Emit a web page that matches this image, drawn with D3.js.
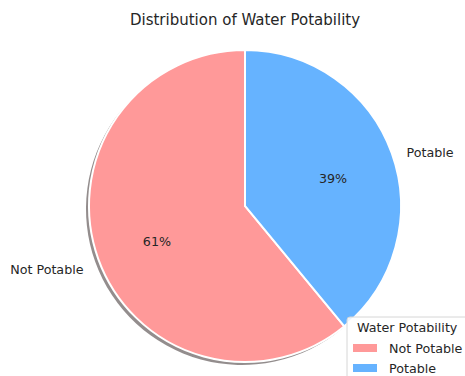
<!DOCTYPE html>
<html>
<head>
  <meta charset="utf-8">
  <title>Distribution of Water Potability</title>
  <style>
    body { margin: 0; background: #fff; }
    svg { display: block; font-family: "DejaVu Sans", sans-serif; }
    .wedge { stroke: #fff; stroke-width: 2px; }
    .lbl { fill: #262626; font-size: 12.7px; }
  </style>
</head>
<body>
  <svg id="chart"></svg>
  <script src="https://cdn.jsdelivr.net/npm/d3@7"></script>
  <script>
    // data
    const categories = ["Not Potable", "Potable"];
    const counts = [1998, 1278];
    const colors = ["#ff9999", "#66b3ff"];
    const shadowColors = ["#3a3030", "#2a3440"];

    const W = 465, H = 376;
    const cx = 245, cy = 206, r = 156;

    const svg = d3.select("#chart").attr("width", W).attr("height", H);

    // title
    svg.append("text")
      .attr("x", 245).attr("y", 25)
      .attr("text-anchor", "middle")
      .attr("fill", "#262626")
      .style("font-size", "15px")
      .text("Distribution of Water Potability");

    // start at 12 o'clock, go counterclockwise like matplotlib
    const pie = d3.pie().sort(null)
      .startAngle(0).endAngle(-2 * Math.PI);
    const arcs = pie(counts);
    const total = d3.sum(counts);

    const arc = d3.arc().innerRadius(0).outerRadius(r);

    // shadow
    const sh = svg.append("g").attr("transform", `translate(${cx - 3},${cy + 3})`);
    sh.selectAll("path")
      .data(arcs)
      .enter()
      .append("path")
      .attr("d", arc)
      .attr("fill", (d, i) => shadowColors[i])
      .attr("opacity", 0.55);

    const g = svg.append("g").attr("transform", `translate(${cx},${cy})`);
    g.selectAll(".wedge")
      .data(arcs)
      .enter()
      .append("path")
      .attr("class", "wedge")
      .attr("d", arc)
      .attr("fill", (d, i) => colors[i]);

    // labels outside at 1.1 r, percentages at 0.6 r
    function mid(d) { return (d.startAngle + d.endAngle) / 2; }
    g.selectAll(".cat")
      .data(arcs)
      .enter()
      .append("text")
      .attr("class", "lbl")
      .attr("x", d => 1.1 * r * Math.sin(mid(d)))
      .attr("y", d => -1.1 * r * Math.cos(mid(d)) + 5)
      .attr("dy", "0.35em")
      .attr("text-anchor", d => Math.sin(mid(d)) < 0 ? "end" : "start")
      .text((d, i) => categories[i]);

    g.selectAll(".pct")
      .data(arcs)
      .enter()
      .append("text")
      .attr("class", "lbl")
      .attr("x", d => 0.6 * r * Math.sin(mid(d)))
      .attr("y", d => -0.6 * r * Math.cos(mid(d)) + 4)
      .attr("dy", "0.35em")
      .attr("text-anchor", "middle")
      .text(d => Math.round(d.value / total * 100) + "%");

    // legend
    const lg = svg.append("g").attr("transform", "translate(347,317)");
    lg.append("rect")
      .attr("width", 125).attr("height", 70).attr("rx", 3)
      .attr("fill", "#fff").attr("fill-opacity", 0.85)
      .attr("stroke", "#d6d6d6");
    lg.append("text")
      .attr("class", "lbl")
      .attr("x", 10).attr("y", 15)
      .text("Water Potability");
    const item = lg.selectAll(".item")
      .data(categories)
      .enter()
      .append("g")
      .attr("transform", (d, i) => `translate(6,${27 + i * 20})`);
    item.append("rect")
      .attr("width", 24).attr("height", 8)
      .attr("fill", (d, i) => colors[i]);
    item.append("text")
      .attr("class", "lbl")
      .attr("x", 36).attr("y", 9)
      .text(d => d);
  </script>
</body>
</html>
